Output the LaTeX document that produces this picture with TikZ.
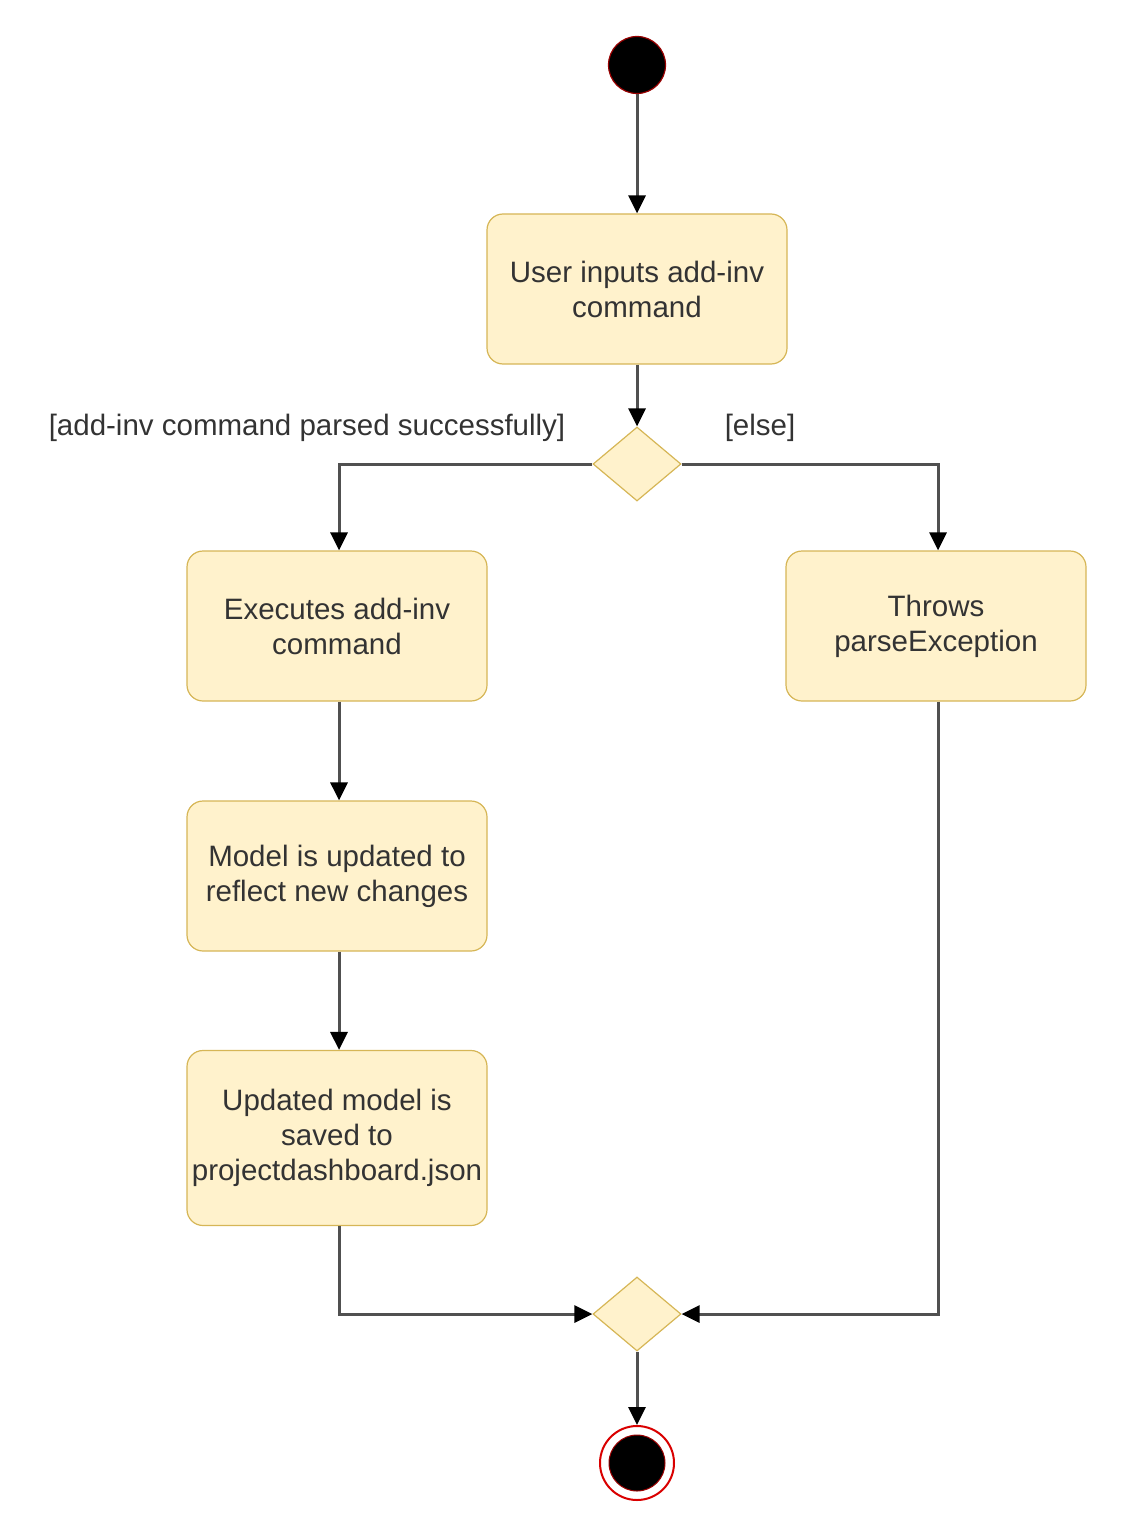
\documentclass[tikz,border=0pt]{standalone}
\usepackage{fontspec}
\setmainfont{Liberation Sans}
\usetikzlibrary{arrows.meta,shapes.geometric}
\definecolor{boxfill}{HTML}{FFF2CC}
\definecolor{boxline}{HTML}{D6B656}
\definecolor{txt}{HTML}{333333}
\definecolor{conn}{HTML}{505050}
\tikzset{
  actbox/.style={draw=boxline, fill=boxfill, line width=1.2pt, rounded corners=16pt,
    minimum width=300pt, minimum height=150pt, align=center, text=txt,
    font=\fontsize{29.5}{35}\selectfont, inner sep=0pt},
  decision/.style={draw=boxline, fill=boxfill, line width=1.2pt, diamond, aspect=1.19,
    minimum width=88pt, minimum height=74pt, inner sep=0pt},
  flow/.style={draw=conn, line width=3pt, -{Triangle[length=18pt,width=17pt,color=black]}},
  guard/.style={text=txt, font=\fontsize{29.5}{35}\selectfont, inner sep=0pt},
}
\begin{document}
\begin{tikzpicture}[x=1pt,y=-1pt]
\useasboundingbox (0,0) rectangle (1121,1522);
\node[circle, fill=black, draw=red!60!black, line width=1.2pt, minimum size=57pt, inner sep=0pt] (start) at (637,65) {};
\node[actbox] (b1) at (637,289) {User inputs add-inv\\command};
\node[decision] (d1) at (637,464) {};
\node[actbox] (b2) at (337,626) {Executes add-inv\\command};
\node[actbox] (b3) at (936,626) {Throws\\parseException};
\node[actbox] (b4) at (337,876) {Model is updated to\\reflect new changes};
\node[actbox, minimum height=175pt] (b5) at (337,1138) {Updated model is\\saved to\\projectdashboard.json};
\node[decision] (d2) at (637,1314) {};
\node[circle, draw=red!85!black, fill=white, line width=2pt, minimum size=74pt, inner sep=0pt] (endo) at (637,1463) {};
\node[circle, fill=black, draw=red!60!black, line width=1pt, minimum size=56pt, inner sep=0pt] (endi) at (637,1463) {};
\node[guard] (g1) at (307,428) {[add-inv command parsed successfully]};
\node[guard] (g2) at (760,428) {[else]};
\coordinate (c1) at (339,464);
\coordinate (c2) at (938,464);
\coordinate (c3) at (339,1314);
\coordinate (c4) at (938,1314);
\draw[flow] (start.south) -- (b1.north);
\draw[flow] (b1.south) -- (d1.north);
\draw[flow] (d1.west) -- (c1) -- (c1 |- b2.north);
\draw[flow] (d1.east) -- (c2) -- (c2 |- b3.north);
\draw[flow] (c1 |- b2.south) -- (c1 |- b4.north);
\draw[flow] (c1 |- b4.south) -- (c1 |- b5.north);
\draw[flow] (c1 |- b5.south) -- (c3) -- (d2.west);
\draw[flow] (c2 |- b3.south) -- (c4) -- (d2.east);
\draw[flow] (d2.south) -- (endo.north);
\end{tikzpicture}
\end{document}
